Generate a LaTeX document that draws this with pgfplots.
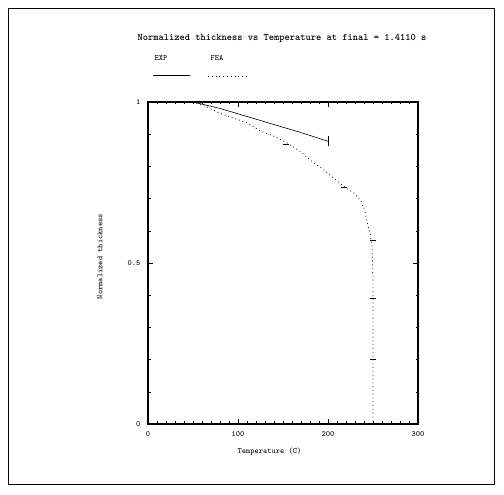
\documentclass[border=0pt]{standalone}
\usepackage{pgfplots}
\pgfplotsset{compat=1.18}
\begin{document}
\begin{tikzpicture}[x=1pt,y=1pt]
\useasboundingbox (0,0) rectangle (504,495);
\draw[line width=0.6pt] (8,11) rectangle (494,487);
\node[font=\ttfamily\normalsize\bfseries] at (282,457) {Normalized thickness vs Temperature at final = 1.4110 s};
\node[font=\ttfamily\footnotesize] at (161,437) {EXP};
\node[font=\ttfamily\footnotesize] at (217,437) {FEA};
\draw[line width=1pt] (153,419) -- (190,419);
\draw[dash pattern=on 0.8pt off 3pt, line width=0.9pt] (208,419) -- (248,419);
\begin{axis}[
  at={(148pt,71pt)}, anchor=south west,
  scale only axis, width=270pt, height=322pt,
  xmin=0, xmax=300, ymin=0, ymax=1,
  xtick={0,100,200,300}, ytick={0,0.5,1},
  yticklabels={0,0.5,1},
  minor x tick num=9, minor y tick num=4,
  tick style={black, line width=0.5pt},
  major tick length=5pt, minor tick length=2.5pt,
  tick label style={font=\ttfamily\footnotesize},
  xticklabel style={yshift=-4pt},
  yticklabel style={xshift=-4pt},
  /pgf/number format/assume math mode=true,
  xlabel={Temperature (C)}, ylabel={Normalized thickness},
  label style={font=\ttfamily\footnotesize},
  xlabel style={at={(axis description cs:0.45,-0.087)}, anchor=center},
  ylabel style={at={(axis description cs:-0.178,0.52)}, anchor=center, rotate=0},
  axis line style={line width=1.2pt},
  clip=false,
]
\addplot[black, line width=0.6pt, mark=none] coordinates {
 (50,1.0) (80,0.98) (110,0.955) (140,0.93) (170,0.905) (200,0.878)
};
\addplot[black, line width=0.5pt, mark=none] coordinates {(200,0.862) (200,0.894)};
\addplot[black, dash pattern=on 0.8pt off 3pt, line width=0.8pt, mark=none] coordinates {
 (50,1.0) (65,0.985) (80,0.965) (95,0.95) (110,0.935) (125,0.91) (143,0.89)
 (153,0.875) (170,0.845) (180,0.82) (195,0.79) (210,0.755) (219,0.735)
 (230,0.715) (237,0.69) (241,0.66) (244,0.62) (247,0.59) (249,0.55)
 (250,0.45) (250,0.35) (250,0.25) (250,0.15) (250,0.05) (250,0.0)
};
\addplot[black, only marks, mark=-, mark size=3pt, line width=0.8pt] coordinates {
 (153,0.868) (218,0.735) (250,0.57) (250,0.39) (250,0.2)
};
\end{axis}
\end{tikzpicture}
\end{document}
